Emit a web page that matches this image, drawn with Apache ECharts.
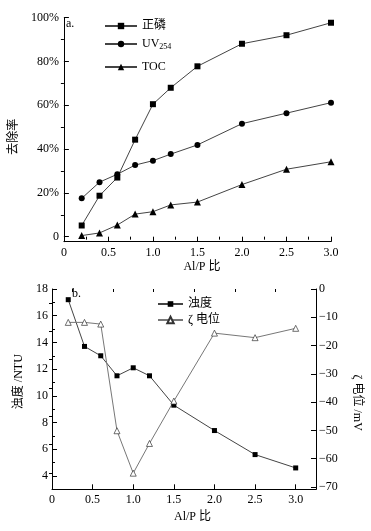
<!DOCTYPE html>
<html><head><meta charset="utf-8">
<script src="https://cdn.jsdelivr.net/npm/echarts@6/dist/echarts.min.js"></script>
<style>html,body{margin:0;padding:0;background:#fff}#c{width:371px;height:531px}</style>
</head><body><div id="c"></div>
<script>
// ---- data ----
const ratio = [0.2, 0.4, 0.6, 0.8, 1.0, 1.2, 1.5, 2.0, 2.5, 3.0];
const phosphate = [5.1, 18.7, 27.0, 44.3, 60.5, 68.0, 77.8, 88.1, 92.0, 97.7];
const uv254 = [17.5, 24.9, 28.5, 32.7, 34.7, 37.7, 41.9, 51.6, 56.4, 61.2];
const toc = [0.5, 1.7, 5.3, 10.3, 11.4, 14.5, 15.8, 23.8, 30.8, 34.2];
const turbidity = [17.2, 13.7, 13.0, 11.5, 12.1, 11.5, 9.3, 7.4, 5.6, 4.6];
const zeta = [-11.8, -11.8, -12.4, -50.1, -65.1, -54.6, -39.6, -15.6, -17.2, -13.9];
const xTicks = [0, 0.5, 1.0, 1.5, 2.0, 2.5, 3.0];
const xMinor = [0.25, 0.75, 1.25, 1.75, 2.25, 2.75];
const removalTicks = [0, 20, 40, 60, 80, 100];
const removalMinor = [10, 30, 50, 70, 90];
const turbTicks = [4, 6, 8, 10, 12, 14, 16, 18];
const turbMinor = [5, 7, 9, 11, 13, 15, 17];
const zetaTicks = [0, -10, -20, -30, -40, -50, -60, -70];
const zetaMinor = [-5, -15, -25, -35, -45, -55, -65];

const FONT = "'Liberation Serif','Noto Sans CJK SC'";
const AX = '#000';
const pair = (ys) => ratio.map((x, i) => [x, ys[i]]);

function mainAxis(extra) {
  return Object.assign({
    type: 'value', splitLine: { show: false },
    axisLine: { show: true, onZero: false, lineStyle: { color: AX, width: 1 } },
    axisTick: { show: true, inside: true, length: 5, lineStyle: { color: AX } },
    axisLabel: { color: '#000', fontFamily: FONT, fontSize: 12 },
    nameTextStyle: { color: '#000', fontFamily: FONT, fontSize: 12 }
  }, extra);
}
function minorAxis(extra, vals) {
  return Object.assign({
    type: 'value', splitLine: { show: false },
    axisLine: { show: false },
    axisLabel: { show: false },
    axisTick: { show: true, inside: true, length: 3, customValues: vals, lineStyle: { color: AX } }
  }, extra);
}
const xFmt = v => v === 0 ? '0' : v.toFixed(1);

const chart = echarts.init(document.getElementById('c'), null, { renderer: 'canvas' });
chart.setOption({
  animation: false,
  backgroundColor: '#fff',
  title: [
    { text: 'a.', left: 61, top: 13, textStyle: { fontFamily: FONT, fontSize: 12, fontWeight: 'normal', color: '#000' } },
    { text: 'b.', left: 67, top: 283, textStyle: { fontFamily: FONT, fontSize: 12, fontWeight: 'normal', color: '#000' } }
  ],
  grid: [
    { left: 52, right: 40, top: 17.7, bottom: 289.3 },
    { left: 52, right: 50, top: 289, bottom: 41.7 }
  ],
  legend: [
    { data: ['正磷'], left: 99, top: 15, itemWidth: 32, itemHeight: 8, textStyle: { fontFamily: FONT, fontSize: 12, color: '#000' } },
    { data: ['UV254'], left: 99, top: 33, itemWidth: 32, itemHeight: 8,
      formatter: () => 'UV{s|254}',
      textStyle: { fontFamily: FONT, fontSize: 12, color: '#000', rich: { s: { fontFamily: FONT, fontSize: 8, verticalAlign: 'bottom', padding: [6, 0, 0, 0] } } } },
    { data: ['TOC'], left: 99, top: 56, itemWidth: 32, itemHeight: 8, textStyle: { fontFamily: FONT, fontSize: 12, color: '#000' } },
    { data: ['浊度'], left: 152, top: 293, itemWidth: 25, itemHeight: 7, textStyle: { fontFamily: FONT, fontSize: 12, color: '#000' } },
    { data: ['ζ 电位'], left: 152, top: 309, itemWidth: 25, itemHeight: 8, textStyle: { fontFamily: FONT, fontSize: 12, color: '#000' } }
  ],
  xAxis: [
    mainAxis({ gridIndex: 0, min: 0, max: 3,
      axisTick: { show: true, inside: true, length: 5, customValues: xTicks, lineStyle: { color: AX } },
      axisLabel: { color: '#000', fontFamily: FONT, fontSize: 12, margin: 5, customValues: xTicks, formatter: xFmt },
      name: 'Al/P 比', nameLocation: 'middle', nameGap: 19,
      nameTextStyle: { color: '#000', fontFamily: FONT, fontSize: 12, padding: [0, 0, 0, 9] } }),
    minorAxis({ gridIndex: 0, min: 0, max: 3 }, xMinor),
    mainAxis({ gridIndex: 1, min: 0, max: 3.25,
      axisTick: { show: true, inside: true, length: 5, customValues: xTicks, lineStyle: { color: AX } },
      axisLabel: { color: '#000', fontFamily: FONT, fontSize: 12, margin: 5, customValues: xTicks, formatter: xFmt },
      name: 'Al/P 比', nameLocation: 'middle', nameGap: 22,
      nameTextStyle: { color: '#000', fontFamily: FONT, fontSize: 12, padding: [0, 0, 0, 17] } }),
    minorAxis({ gridIndex: 1, min: 0, max: 3.25 }, xMinor)
  ],
  yAxis: [
    mainAxis({ gridIndex: 0, min: -2.3, max: 100,
      axisTick: { show: true, inside: true, length: 5, customValues: removalTicks, lineStyle: { color: AX } },
      axisLabel: { color: '#000', fontFamily: FONT, fontSize: 12, margin: 5, customValues: removalTicks, formatter: v => v === 0 ? '0' : v + '%' },
      name: '去除率', nameLocation: 'middle', nameRotate: 90, nameGap: 30,
      nameTextStyle: { color: '#000', fontFamily: FONT, fontSize: 12, padding: [0, 14, 0, 0] } }),
    minorAxis({ gridIndex: 0, min: -2.3, max: 100 }, removalMinor),
    mainAxis({ gridIndex: 1, min: 3, max: 18, position: 'left',
      axisTick: { show: true, inside: true, length: 5, customValues: turbTicks, lineStyle: { color: AX } },
      axisLabel: { color: '#000', fontFamily: FONT, fontSize: 12, margin: 4, customValues: turbTicks },
      name: '浊度 /NTU', nameLocation: 'middle', nameRotate: 90, nameGap: 21,
      nameTextStyle: { color: '#000', fontFamily: FONT, fontSize: 12, padding: [0, 0, 0, 15] } }),
    minorAxis({ gridIndex: 1, min: 3, max: 18, position: 'left' }, turbMinor),
    mainAxis({ gridIndex: 1, min: -70.8, max: 0, position: 'right',
      axisTick: { show: true, inside: true, length: 5, customValues: zetaTicks, lineStyle: { color: AX } },
      axisLabel: { color: '#000', fontFamily: FONT, fontSize: 12, margin: 3, customValues: zetaTicks, formatter: v => v === 0 ? '0' : '\u2212' + Math.abs(v) },
      name: 'ζ 电位 /mV', nameLocation: 'middle', nameRotate: -90, nameGap: 35,
      nameTextStyle: { color: '#000', fontFamily: FONT, fontSize: 12, padding: [0, 0, 0, 27] } }),
    minorAxis({ gridIndex: 1, min: -70.8, max: 0, position: 'right' }, zetaMinor)
  ],
  series: [
    { name: '正磷', type: 'line', xAxisIndex: 0, yAxisIndex: 0, data: pair(phosphate),
      symbol: 'rect', symbolSize: 6, lineStyle: { color: '#444', width: 1 }, itemStyle: { color: '#000' } },
    { name: 'UV254', type: 'line', xAxisIndex: 0, yAxisIndex: 0, data: pair(uv254),
      symbol: 'circle', symbolSize: 6, lineStyle: { color: '#444', width: 1 }, itemStyle: { color: '#000' } },
    { name: 'TOC', type: 'line', xAxisIndex: 0, yAxisIndex: 0, data: pair(toc),
      symbol: 'triangle', symbolSize: 7, lineStyle: { color: '#444', width: 1 }, itemStyle: { color: '#000' } },
    { name: '浊度', type: 'line', xAxisIndex: 2, yAxisIndex: 2, data: pair(turbidity),
      symbol: 'rect', symbolSize: 5, lineStyle: { color: '#444', width: 1 }, itemStyle: { color: '#000' } },
    { name: 'ζ 电位', type: 'line', xAxisIndex: 2, yAxisIndex: 4, data: pair(zeta),
      symbol: 'triangle', symbolSize: 6, lineStyle: { color: '#777', width: 1 },
      itemStyle: { color: '#fff', borderColor: '#333', borderWidth: 0.7 } }
  ]
});
</script></body></html>
